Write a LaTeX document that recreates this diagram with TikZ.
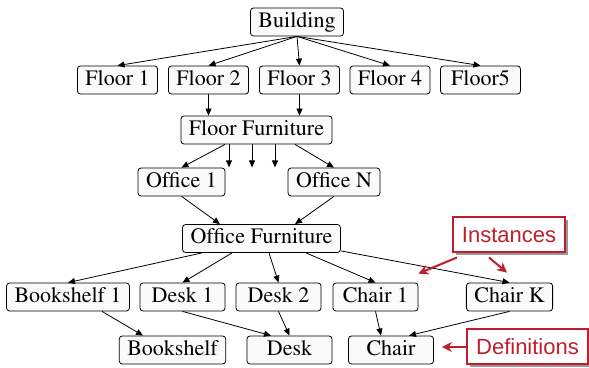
\documentclass[tikz,border=0pt]{standalone}
\usepackage[T1]{fontenc}
\usepackage{fontspec}
\newfontfamily\notefont{Liberation Sans}
\newcommand{\itemfont}{\fontencoding{T1}\fontfamily{ptm}\selectfont}
\usepackage{tikz}
\usetikzlibrary{arrows.meta,shadows}
\definecolor{annotred}{RGB}{190,30,45}
\definecolor{boxfill}{RGB}{250,250,250}
\tikzset{
  item/.style={draw,rounded corners=1.5pt,fill=boxfill,font=\itemfont\fontsize{11}{13}\selectfont,
    inner xsep=4pt,inner ysep=0pt,minimum height=14pt,minimum width=42.5pt,text height=8pt,text depth=2.5pt},
  floorbox/.style={item,minimum width=40pt},
  link/.style={-{Triangle[length=3.5pt,width=3pt]}},
  note/.style={draw=annotred,line width=1pt,fill=white,text=annotred,font=\notefont\fontsize{11}{13}\selectfont,
    inner xsep=4.5pt,minimum height=17.5pt,drop shadow={shadow xshift=1.5pt,shadow yshift=-1.5pt,fill=gray!80,opacity=1}},
  notelink/.style={annotred,line width=1pt,-{Stealth[length=5pt,width=5pt]}}
}
\begin{document}
\begin{tikzpicture}[x=0.5pt,y=-0.5pt]
  \useasboundingbox (0,0) rectangle (589,368);
  % tree of instances
  \node[item] (bldg) at (297,22) {Building};
  \node[floorbox] (f1) at (117.5,80) {Floor 1};
  \node[floorbox] (f2) at (208.5,80) {Floor 2};
  \node[floorbox] (f3) at (299.5,80) {Floor 3};
  \node[floorbox] (f4) at (390,80) {Floor 4};
  \node[floorbox] (f5) at (480.5,80) {Floor5};
  \node[item] (ff) at (256.5,130) {Floor Furniture};
  \node[item] (of1) at (181.5,182) {Office 1};
  \node[item] (ofn) at (334,182) {Office N};
  \node[item] (ofu) at (261.5,238.5) {Office Furniture};
  \node[item] (bs1) at (68,297) {Bookshelf 1};
  \node[item] (d1) at (182.5,297) {Desk 1};
  \node[item] (d2) at (278.5,297) {Desk 2};
  \node[item] (c1) at (375.5,297) {Chair 1};
  \node[item] (ck) at (509.5,297) {Chair K};
  % definitions
  \node[item] (bs) at (172.5,350) {Bookshelf};
  \node[item] (dk) at (289.5,350) {Desk};
  \node[item] (ch) at (391,350) {Chair};

  \foreach \f in {f1,f2,f3,f4,f5}
    \draw[link] (bldg.south) -- (\f.north);
  \draw[link] (f2.south) -- (f2.south |- ff.north);
  \draw[link] (f3.south) -- (f3.south |- ff.north);
  \draw[link] ([xshift=-15.75pt]ff.south) -- (of1.north);
  \draw[link] ([xshift=19.25pt]ff.south) -- (ofn.north);
  \foreach \dx in {-13.75,-2.25,9.25}
    \draw[link] ([xshift=\dx pt]ff.south) -- ++(0,23);
  \draw[link] (of1.south) -- ([xshift=-20.75pt]ofu.north);
  \draw[link] (ofn.south) -- ([xshift=16.75pt]ofu.north);
  \draw[link] ([xshift=-29.75pt]ofu.south) -- (bs1.north);
  \draw[link] ([xshift=-14.75pt]ofu.south) -- (d1.north);
  \draw[link] ([xshift=3.75pt]ofu.south) -- (d2.north);
  \draw[link] ([xshift=22.25pt]ofu.south) -- (c1.north);
  \draw[link] ([yshift=1pt]ofu.south east) -- (ck.north);
  \draw[link] ([xshift=17pt]bs1.south) -- ([xshift=-14.75pt]bs.north);
  \draw[link] (d1.south) -- ([xshift=-9.25pt]dk.north);
  \draw[link] (d2.south) -- (dk.north);
  \draw[link] (c1.south) -- ([xshift=-5pt]ch.north);
  \draw[link] (ck.south) -- ([xshift=9pt]ch.north);

  % annotations
  \node[note] (inst) at (509,235) {Instances};
  \node[note] (defs) at (527.5,347) {Definitions};
  \coordinate (instA) at ([yshift=4.5pt]c1.north east);
  \coordinate (instB) at ([xshift=-1.25pt,yshift=5pt]ck.north);
  \coordinate (defA) at ([xshift=4pt]ch.east);
  \draw[notelink] ([xshift=2.5pt,yshift=-2pt]inst.south west) -- (instA);
  \draw[notelink] ([xshift=-10pt,yshift=-2pt]inst.south) -- (instB);
  \draw[notelink] (defs.west) -- (defs.west -| defA);
\end{tikzpicture}
\end{document}
